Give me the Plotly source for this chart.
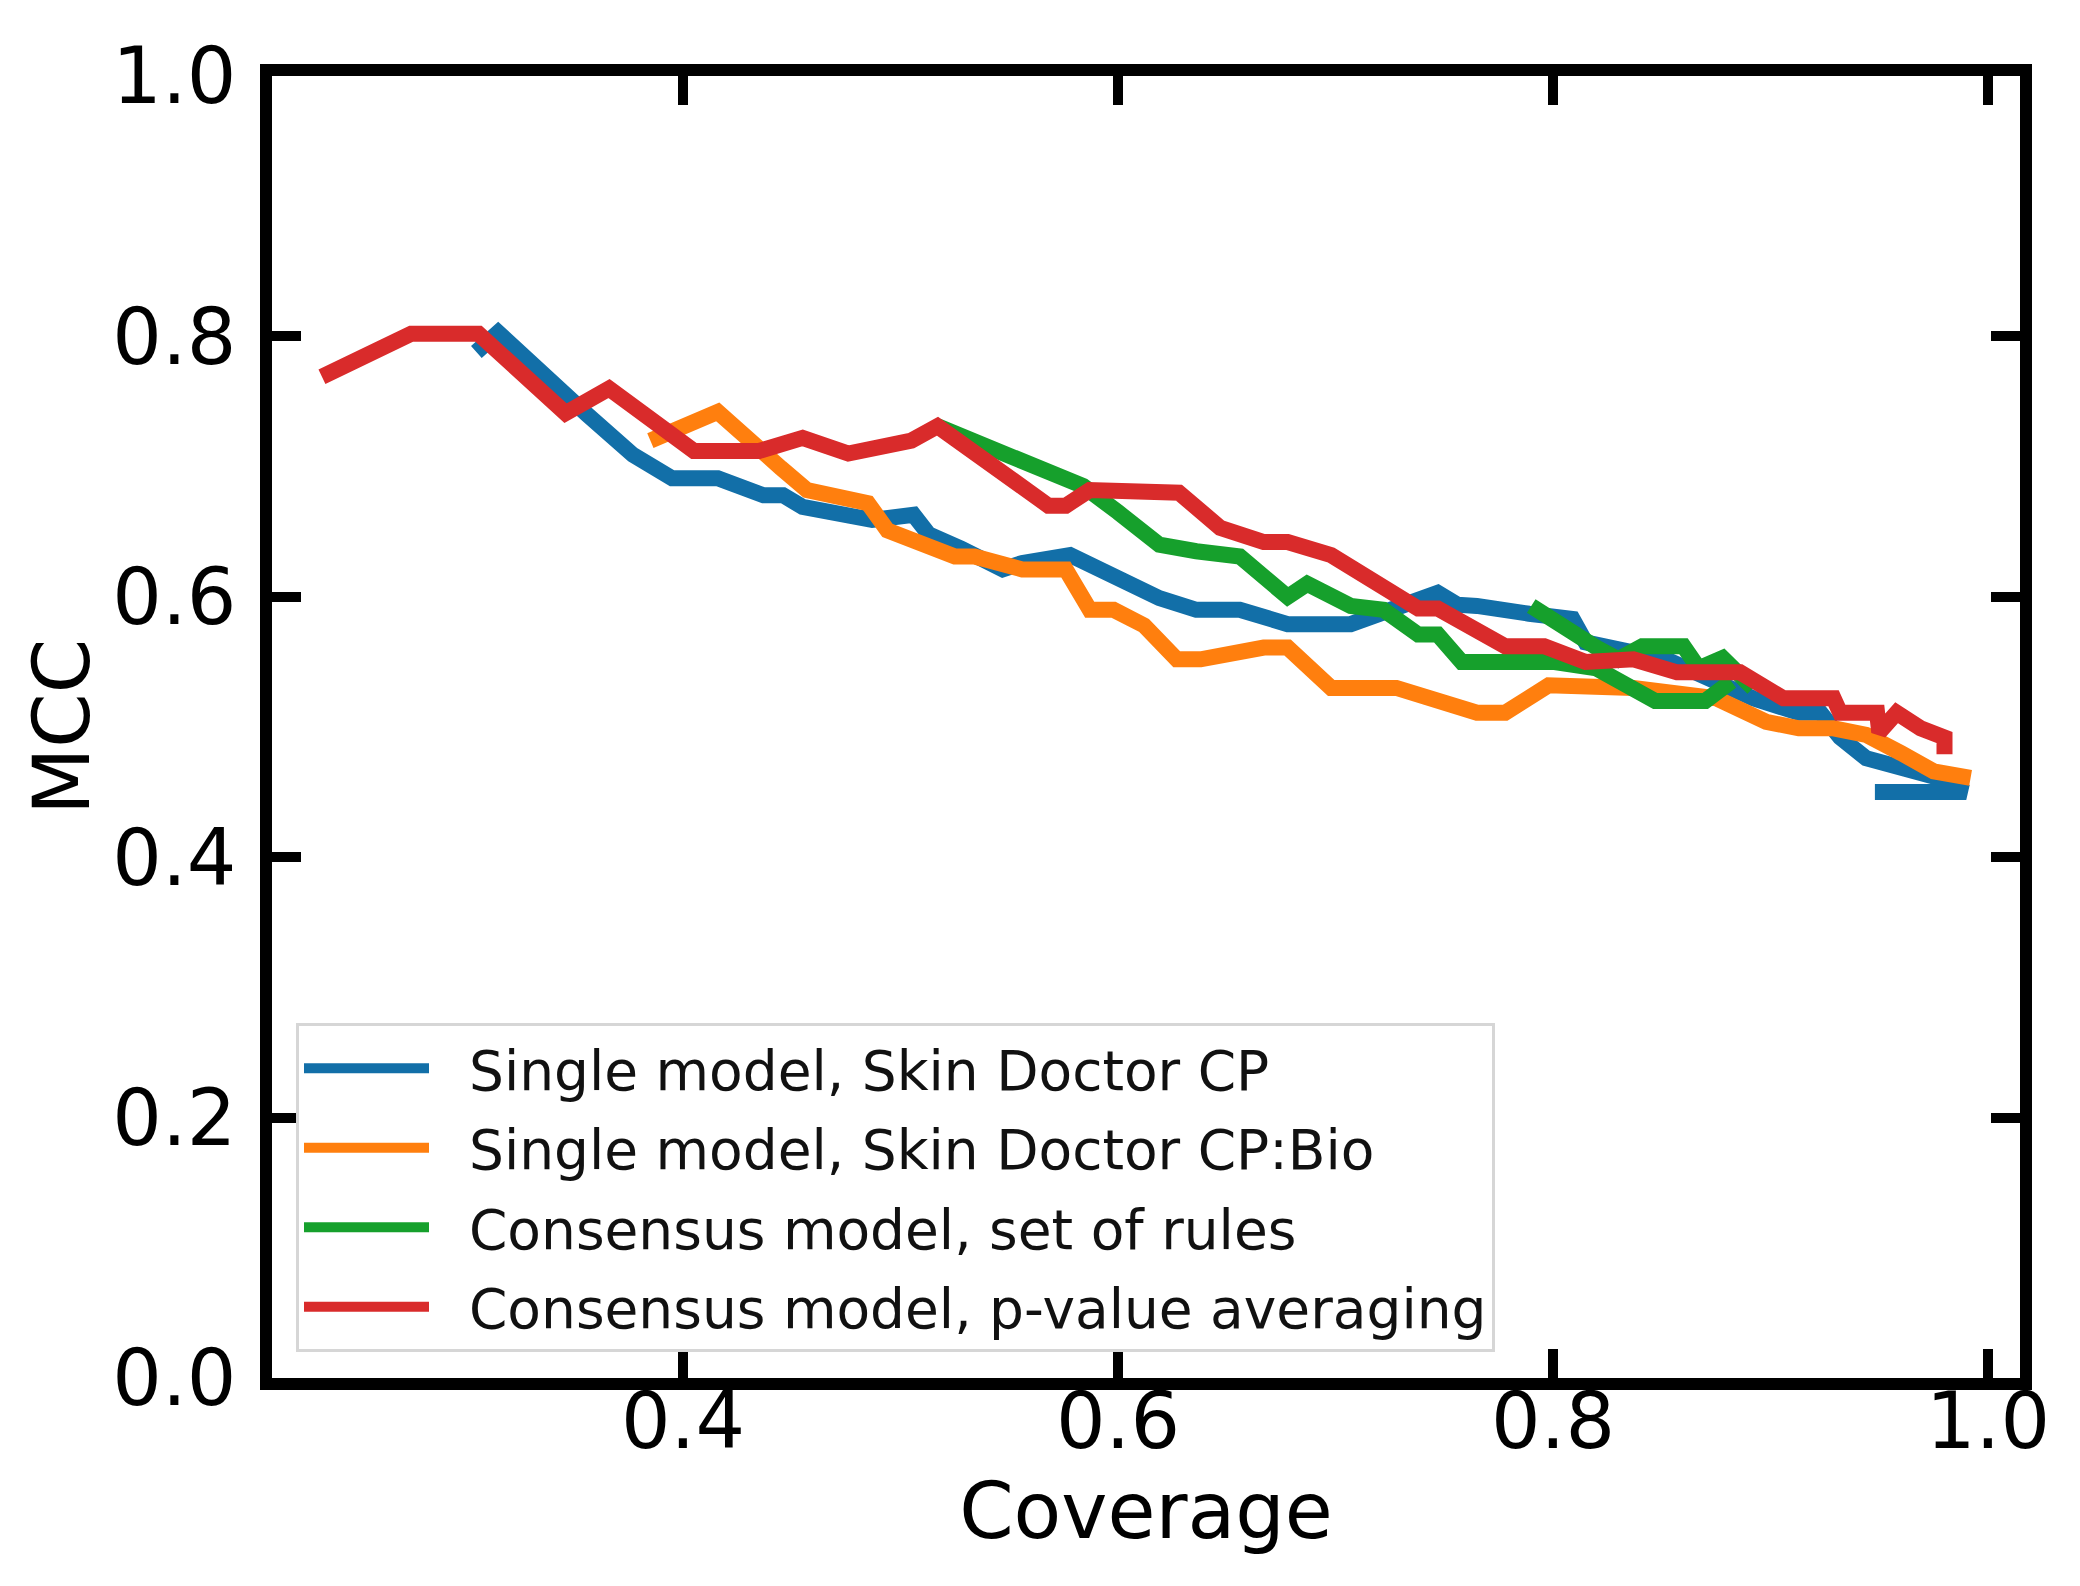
import plotly.graph_objects as go

# ---- data ----
series_names = [
    "Single model, Skin Doctor CP",
    "Single model, Skin Doctor CP:Bio",
    "Consensus model, set of rules",
    "Consensus model, p-value averaging",
]

blue_x = [0.305, 0.315, 0.356, 0.377, 0.395, 0.416, 0.437, 0.446, 0.455, 0.487, 0.506, 0.513,
          0.528, 0.547, 0.556, 0.578, 0.619, 0.636, 0.656, 0.678, 0.707, 0.719, 0.747, 0.756,
          0.765, 0.789, 0.809, 0.815, 0.852, 0.892, 0.913, 0.923, 0.932, 0.944, 0.960, 0.975,
          0.990, 0.948]
blue_y = [0.788, 0.803, 0.740, 0.709, 0.691, 0.691, 0.678, 0.678, 0.669, 0.659, 0.663, 0.648,
          0.637, 0.621, 0.626, 0.632, 0.599, 0.590, 0.590, 0.579, 0.579, 0.587, 0.603, 0.594,
          0.593, 0.587, 0.583, 0.565, 0.552, 0.522, 0.511, 0.511, 0.492, 0.476, 0.469, 0.462,
          0.450, 0.450]

orange_x = [0.385, 0.416, 0.445, 0.457, 0.485, 0.494, 0.525, 0.534, 0.556, 0.576, 0.587, 0.598,
            0.612, 0.627, 0.638, 0.667, 0.678, 0.698, 0.728, 0.765, 0.778, 0.798, 0.837, 0.875,
            0.898, 0.913, 0.929, 0.944, 0.960, 0.975, 0.992]
orange_y = [0.720, 0.742, 0.699, 0.682, 0.672, 0.651, 0.631, 0.631, 0.621, 0.621, 0.590, 0.590,
            0.578, 0.552, 0.552, 0.561, 0.561, 0.530, 0.530, 0.511, 0.511, 0.532, 0.530, 0.522,
            0.504, 0.499, 0.499, 0.494, 0.480, 0.466, 0.461]

green_x = [0.517, 0.540, 0.565, 0.584, 0.600, 0.619, 0.636, 0.656, 0.678, 0.687, 0.707, 0.722,
           0.738, 0.747, 0.758, 0.800, 0.820, 0.847, 0.870, 0.882,
           None,
           0.790, 0.806, 0.821, 0.830, 0.841, 0.860, 0.867, 0.878, 0.892]
green_y = [0.731, 0.716, 0.700, 0.685, 0.665, 0.640, 0.635, 0.631, 0.600, 0.610, 0.593, 0.590,
           0.571, 0.571, 0.550, 0.550, 0.545, 0.520, 0.520, 0.535,
           None,
           0.593, 0.575, 0.560, 0.552, 0.562, 0.562, 0.545, 0.553, 0.530]

red_x = [0.234, 0.254, 0.275, 0.306, 0.346, 0.366, 0.405, 0.435, 0.455, 0.476, 0.505, 0.517,
         0.568, 0.576, 0.587, 0.628, 0.647, 0.667, 0.678, 0.698, 0.719, 0.738, 0.747, 0.778,
         0.796, 0.815, 0.837, 0.857, 0.886, 0.906, 0.929, 0.932, 0.949, 0.950, 0.958, 0.969,
         0.980, 0.980]
red_y = [0.769, 0.785, 0.802, 0.802, 0.741, 0.760, 0.712, 0.712, 0.722, 0.710, 0.720, 0.731,
         0.670, 0.670, 0.682, 0.680, 0.653, 0.642, 0.642, 0.632, 0.610, 0.591, 0.591, 0.562,
         0.562, 0.550, 0.552, 0.542, 0.542, 0.522, 0.522, 0.511, 0.511, 0.496, 0.511, 0.499,
         0.492, 0.479]

series_x = [blue_x, orange_x, green_x, red_x]
series_y = [blue_y, orange_y, green_y, red_y]
colors = ["#126fa8", "#ff7f0e", "#16a02c", "#d92b2b"]

x_ticks = [0.4, 0.6, 0.8, 1.0]
y_ticks = [0.0, 0.2, 0.4, 0.6, 0.8, 1.0]

# ---- layout geometry ----
W, H = 2080, 1586
L, R, T, B = 264, 68, 68, 216
plot_w = W - L - R
plot_h = H - T - B

# pixel -> coverage mapping measured on the reference (0.6 at 1110 px, 2175 px per unit)
def px_to_cov(px):
    return 0.6 + (px - 1110) / 2175.0

x_range = [px_to_cov(L), px_to_cov(W - R)]

FONT = "DejaVu Sans"
NBSP = "\u00a0\u00a0"

fig = go.Figure()
for i, (name, xs, ys, c) in enumerate(zip(series_names, series_x, series_y, colors)):
    fig.add_trace(go.Scatter(
        x=xs, y=ys, mode="lines", name=NBSP + name, connectgaps=False,
        legendgroup="g%d" % i,
        line=dict(color=c, width=16),
    ))

axis_common = dict(
    showline=True, linewidth=12, linecolor="black", mirror="allticks",
    ticks="inside", ticklen=29, tickwidth=10, tickcolor="black",
    showgrid=False, zeroline=False, tickformat=".1f",
    tickfont=dict(family=FONT, size=78, color="black"),
)

fig.update_layout(
    width=W, height=H,
    margin=dict(l=L, r=R, t=T, b=B),
    paper_bgcolor="white", plot_bgcolor="white",
    font=dict(family=FONT, color="black"),
    xaxis=dict(range=x_range, tickvals=x_ticks, ticklabelstandoff=-36,
               title=dict(text="Coverage", font=dict(family=FONT, size=78), standoff=6),
               **axis_common),
    yaxis=dict(range=[0, 1], tickvals=y_ticks, ticklabelstandoff=8,
               title=dict(text="MCC", font=dict(family=FONT, size=78), standoff=2),
               **axis_common),
    legend=dict(
        x=(288 - L) / plot_w, y=(H - B - 1344) / plot_h,
        xanchor="left", yanchor="bottom",
        font=dict(family=FONT, size=55, color="#111111"),
        bgcolor="white", bordercolor="#d6d6d6", borderwidth=3,
        itemwidth=125, traceorder="grouped", tracegroupgap=5,
    ),
    showlegend=True,
)

fig.write_html("out.html")
